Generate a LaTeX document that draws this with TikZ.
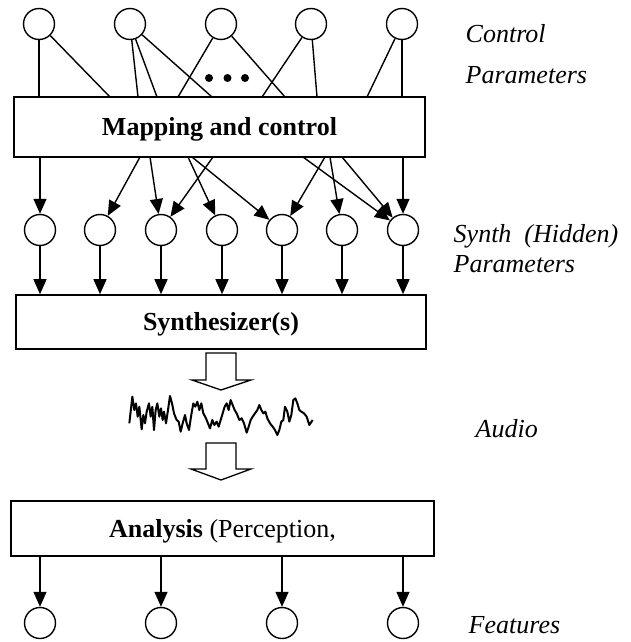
\documentclass[tikz,border=0pt]{standalone}
\usepackage{fontspec}
\setmainfont{Liberation Serif}
\usetikzlibrary{arrows.meta}
\begin{document}
\begin{tikzpicture}[x=1pt,y=-1pt,
  every path/.style={line width=1.4pt},
  circ/.style={draw,circle,minimum size=31pt,inner sep=0pt,line width=1.4pt},
  boxnode/.style={draw,rectangle,inner sep=0pt,line width=1.6pt,
    font=\fontsize{26}{31}\selectfont,text height=17pt,text depth=0pt},
  lab/.style={anchor=base west,inner sep=0pt,font=\fontsize{26}{31}\selectfont\itshape},
  arr/.style={-{Triangle[length=15pt,width=13pt]}},
  hollow/.style={draw,line width=1.3pt,fill=white}]
\useasboundingbox (0,0) rectangle (631,642);

% top (control) circles
\foreach \i/\x in {1/39,2/130,3/221,4/311,5/402}
  \node[circ] (t\i) at (\x,24) {};

% boxes
\node[boxnode,minimum width=411pt,minimum height=60pt] (map) at (219.5,127) {\bfseries Mapping and control};
\node[boxnode,minimum width=410pt,minimum height=54pt] (syn) at (221,322) {\bfseries Synthesizer(s)};
\node[boxnode,minimum width=423pt,minimum height=55pt] (ana) at (222.5,528.5) {\textbf{Analysis} (Perception,};

% hidden circles
\foreach \i/\x in {1/40,2/100,3/161,4/222,5/282,6/342,7/403}
  \node[circ] (h\i) at (\x,230) {};

% feature circles
\foreach \i/\x in {1/40,2/161,3/282,4/403}
  \node[circ] (f\i) at (\x,623) {};

% anchor points on mapping box
\foreach \n/\x in {a1/110,a2/138,a3/157,a4/212,a5/178,a6/285,a7/262,a8/317,a9/367}
  \coordinate (\n) at (\x,97);
\foreach \n/\x in {b2/140,b3/150,b4/213,b5/188,b6/192,b7/325,b8/330,b9/303,b10/342}
  \coordinate (\n) at (\x,157);

% control -> mapping
\draw (t1.south) -- (t1.south |- map.north);
\draw (t1) -- (a1);
\draw (t2) -- (a2);
\draw (t2) -- (a3);
\draw (t2) -- (a4);
\draw (t3) -- (a5);
\draw (t3) -- (a6);
\draw (t4) -- (a7);
\draw (t4) -- (a8);
\draw (t5) -- (a9);
\draw (t5.south) -- (t5.south |- map.north);

% dots
\fill (209,78) circle (4pt) (227.5,78) circle (4pt) (245,78) circle (4pt);

% mapping -> hidden
\draw[arr] (h1 |- map.south) -- (h1);
\draw[arr] (b2) -- (h2);
\draw[arr] (b3) -- (h3);
\draw[arr] (b4) -- (h3);
\draw[arr] (b5) -- (h4);
\draw[arr] (b6) -- (h5);
\draw[arr] (b7) -- (h5);
\draw[arr] (b8) -- (h6);
\draw[arr] (b9) -- (h7);
\draw[arr] (b10) -- (h7);
\draw[arr] (h7 |- map.south) -- (h7);

% hidden -> synth
\foreach \i in {1,...,7}
  \draw[arr] (h\i) -- (h\i |- syn.north);

% hollow arrows
\draw[hollow] (206,353) -- (206,380) -- (192,380) -- (221,390) -- (251,380) -- (236,380) -- (236,353) -- cycle;
\draw[hollow] (206,443) -- (206,469) -- (191,469) -- (221,480) -- (251,469) -- (236,469) -- (236,443) -- cycle;

% waveform
\begin{scope}[shift={(100,380)},scale=1/3]
\draw[line width=2pt,line join=round] (88,130) -- (97,50) -- (103,90) -- (108,70) -- (113,110) -- (118,80) -- (125,148) -- (130,105) -- (135,130) -- (140,95) -- (147,70) -- (152,110) -- (157,80) -- (162,150) -- (167,90) -- (172,70) -- (178,110) -- (183,85) -- (188,120) -- (192,95) -- (198,130) -- (204,90) -- (210,48) -- (216,70) -- (222,100) -- (230,120) -- (236,125) -- (242,155) -- (248,130) -- (255,105) -- (260,130) -- (267,150) -- (273,110) -- (280,70) -- (286,80) -- (292,65) -- (298,90) -- (304,70) -- (310,100) -- (318,115) -- (324,130) -- (330,145) -- (337,120) -- (343,135) -- (350,125) -- (356,140) -- (362,120) -- (368,100) -- (374,80) -- (380,70) -- (386,90) -- (392,60) -- (398,75) -- (404,90) -- (410,100) -- (418,120) -- (425,115) -- (432,130) -- (440,158) -- (446,140) -- (452,120) -- (458,110) -- (465,100) -- (472,90) -- (478,75) -- (484,90) -- (490,100) -- (496,95) -- (502,115) -- (510,130) -- (518,140) -- (525,150) -- (532,165) -- (538,150) -- (544,125) -- (550,120) -- (555,80) -- (562,95) -- (568,125) -- (574,105) -- (580,60) -- (586,55) -- (592,70) -- (598,90) -- (604,95) -- (612,100) -- (620,110) -- (628,135) -- (638,120);
\end{scope}

% analysis -> features
\foreach \i in {1,...,4}
  \draw[arr] (f\i |- ana.south) -- (f\i);

% labels
\node[lab] (l1) at (465,43) {Control};
\node[lab] (l2) at (465,83) {Parameters};
\node[lab] (l3) at (453,242) {Synth\ \ (Hidden)};
\node[lab] (l4) at (453,272) {Parameters};
\node[lab] (l5) at (475,437) {Audio};
\node[lab] (l6) at (468,633) {Features};
\end{tikzpicture}
\end{document}
